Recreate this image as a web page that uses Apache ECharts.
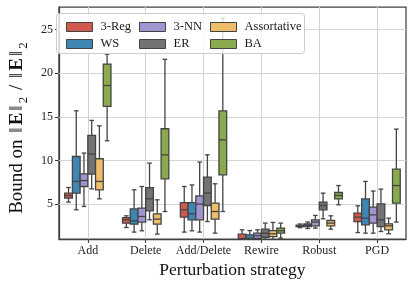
<!DOCTYPE html>
<html><head><meta charset="utf-8">
<script src="https://cdn.jsdelivr.net/npm/echarts@6/dist/echarts.min.js"></script>
<style>html,body{margin:0;padding:0;background:#fff}#c{width:415px;height:286px}</style>
</head><body><div id="c"></div>
<script>
// categories
const categories = ['Add', 'Delete', 'Add/Delete', 'Rewire', 'Robust', 'PGD'];
const seriesNames = ['3-Reg', 'WS', '3-NN', 'ER', 'Assortative', 'BA'];
const yTicks = [5, 10, 15, 20, 25];
// each entry: [whisker low, Q1, median, Q3, whisker high] per category
const reg3 = [[5.23, 5.69, 5.99, 6.26, 6.9], [2.32, 2.82, 3.2, 3.46, 3.66], [1.79, 3.5, 4.35, 5.18, 7.02], [0.5, 0.8, 1.05, 1.55, 2.05], [2.3, 2.42, 2.5, 2.6, 2.72], [1.74, 3.0, 3.5, 3.97, 4.8]];
const ws = [[4.35, 6.26, 7.6, 10.46, 15.7], [1.79, 2.7, 3.08, 4.46, 6.64], [1.94, 3.2, 3.89, 5.18, 7.2], [0.5, 0.8, 1.1, 1.48, 1.97], [2.2, 2.42, 2.55, 2.72, 2.95], [1.67, 2.63, 3.39, 5.6, 7.6]];
const nn3 = [[4.73, 7.02, 7.7, 8.47, 10.85], [1.94, 2.94, 3.58, 4.54, 7.02], [1.79, 3.2, 5.0, 5.95, 9.82], [0.7, 1.08, 1.39, 1.67, 2.05], [2.25, 2.51, 2.94, 3.2, 3.7], [1.67, 2.82, 3.77, 4.66, 6.5]];
const er = [[6.75, 8.44, 10.73, 12.87, 14.6], [3.2, 4.23, 5.6, 6.9, 9.7], [3.0, 4.84, 6.26, 8.1, 10.65], [0.95, 1.2, 1.67, 2.13, 2.82], [3.31, 4.35, 4.84, 5.23, 6.26], [1.86, 2.43, 3.2, 5.03, 6.72]];
const assortative = [[5.6, 6.64, 7.6, 10.2, 13.98], [1.56, 2.7, 3.28, 3.89, 5.49], [1.67, 3.28, 4.15, 5.11, 7.33], [0.9, 1.28, 1.59, 1.97, 2.9], [2.13, 2.51, 2.82, 3.12, 3.66], [1.6, 2.05, 2.51, 2.74, 3.39]];
const ba = [[12.26, 16.2, 18.6, 21.06, 22.2], [4.15, 7.9, 10.65, 13.64, 21.6], [4.15, 8.36, 12.37, 15.7, 26.3], [1.1, 1.67, 1.94, 2.25, 2.82], [4.92, 5.6, 5.99, 6.33, 7.13], [2.94, 5.11, 7.13, 9.01, 13.6]];

const allData = [reg3, ws, nn3, er, assortative, ba];
const colors = ['#d1584c', '#3f86b4', '#a095d1', '#737373', '#edbd6c', '#8aab4d'];
const edge = '#444444';
const FONT = "'Liberation Serif', 'DejaVu Serif', serif";

function makeRender(h) {
  return function (params, api) {
    const cat = api.value(0);
    const v = [1, 2, 3, 4, 5].map(i => api.value(i));
    const bw = api.size([1, 0])[0];
    const dodge = 0.8 * bw / 6;
    const cx = api.coord([cat, 5])[0] - 0.4 * bw + dodge * (h + 0.5);
    const y = v.map(val => api.coord([cat, val])[1]);
    const w = dodge, half = w / 2, cap = w * 0.3;
    const ls = { stroke: edge, lineWidth: 1.3 };
    return {
      type: 'group', children: [
        { type: 'line', shape: { x1: cx, y1: y[0], x2: cx, y2: y[1] }, style: ls },
        { type: 'line', shape: { x1: cx, y1: y[3], x2: cx, y2: y[4] }, style: ls },
        { type: 'line', shape: { x1: cx - cap, y1: y[0], x2: cx + cap, y2: y[0] }, style: ls },
        { type: 'line', shape: { x1: cx - cap, y1: y[4], x2: cx + cap, y2: y[4] }, style: ls },
        { type: 'rect', shape: { x: cx - half, y: y[3], width: w, height: y[1] - y[3] }, style: { fill: colors[h], stroke: edge, lineWidth: 1.3 } },
        { type: 'line', shape: { x1: cx - half, y1: y[2], x2: cx + half, y2: y[2] }, style: ls }
      ]
    };
  };
}

const series = allData.map((arr, h) => ({
  type: 'custom',
  name: seriesNames[h],
  renderItem: makeRender(h),
  itemStyle: { color: colors[h] },
  clip: true,
  z: 2,
  encode: { x: 0, y: [1, 2, 3, 4, 5] },
  data: arr.map((d, i) => [i, ...d])
}));

series.push({
  type: 'line', name: 'grid', data: [], silent: true,
  markLine: {
    silent: true, symbol: 'none', z: 1, animation: false,
    label: { show: false },
    lineStyle: { color: '#d4d4d4', width: 1, type: 'solid' },
    emphasis: { disabled: true },
    data: yTicks.map(t => ({ yAxis: t })).concat(categories.map((c, i) => ({ xAxis: i })))
  }
});

const legendBase = {
  orient: 'vertical', itemWidth: 26, itemHeight: 9, itemGap: 3, z: 12,
  icon: 'rect',
  itemStyle: { borderColor: edge, borderWidth: 1 },
  textStyle: { fontFamily: FONT, fontSize: 12.5, color: '#1a1a1a', lineHeight: 14, padding: [0, 0, 0, 3] }
};

const chart = echarts.init(document.getElementById('c'), null, { renderer: 'canvas' });
chart.setOption({
  animation: false,
  color: colors,
  grid: { left: 49, right: 9, top: 7, bottom: 47, show: true, borderColor: '#404040', borderWidth: 1.25 },
  graphic: [{
    type: 'rect', z: 11, left: 56, top: 13,
    shape: { width: 248, height: 40, r: 3 },
    style: { fill: 'rgba(255,255,255,0.8)', stroke: '#cccccc', lineWidth: 1 }
  }],
  legend: [
    Object.assign({}, legendBase, { left: 61, top: 15, data: ['3-Reg', 'WS'] }),
    Object.assign({}, legendBase, { left: 134, top: 15, data: ['3-NN', 'ER'] }),
    Object.assign({}, legendBase, { left: 205, top: 15, data: ['Assortative', 'BA'] })
  ],
  xAxis: {
    type: 'category', data: categories, boundaryGap: true,
    name: 'Perturbation strategy', nameLocation: 'middle', nameGap: 18,
    nameTextStyle: { fontFamily: FONT, fontSize: 17.5, color: '#111' },
    axisLine: { show: true, lineStyle: { color: '#404040', width: 1.25 } },
    axisTick: { show: true, alignWithLabel: true, interval: 0, length: 4, lineStyle: { color: '#404040', width: 1.1 } },
    axisLabel: { fontFamily: FONT, fontSize: 12, color: '#222', margin: 6, interval: 0 },
    splitLine: { show: false }
  },
  yAxis: {
    type: 'value', min: 1, max: 27.6,
    name: '{a|Bound on }{d|‖}{b|E}{d|‖}{s|2}{a| / }{d|‖}{b|E}{d|‖}{e|2}',
    nameLocation: 'middle', nameGap: 25,
    nameTextStyle: {
      fontFamily: FONT, fontSize: 19, color: '#111',
      rich: {
        a: { fontFamily: FONT, fontSize: 19, color: '#111' },
        d: { fontFamily: FONT, fontSize: 19, color: '#111', padding: [0, 2, 0, 2] },
        b: { fontFamily: FONT, fontSize: 19, fontWeight: 'bold', color: '#111' },
        s: { fontFamily: FONT, fontSize: 13, color: '#111', verticalAlign: 'bottom', padding: [0, 2, -3, 0] },
        e: { fontFamily: FONT, fontSize: 13, color: '#111', verticalAlign: 'bottom', padding: [0, 10, -3, 0] }
      }
    },
    axisLine: { show: true, lineStyle: { color: '#404040', width: 1.25 } },
    axisTick: { show: true, length: 4, customValues: yTicks, lineStyle: { color: '#404040', width: 1.1 } },
    axisLabel: { fontFamily: FONT, fontSize: 12, color: '#222', margin: 6, customValues: yTicks },
    splitLine: { show: false }
  },
  series: series
});
</script>
</body></html>
